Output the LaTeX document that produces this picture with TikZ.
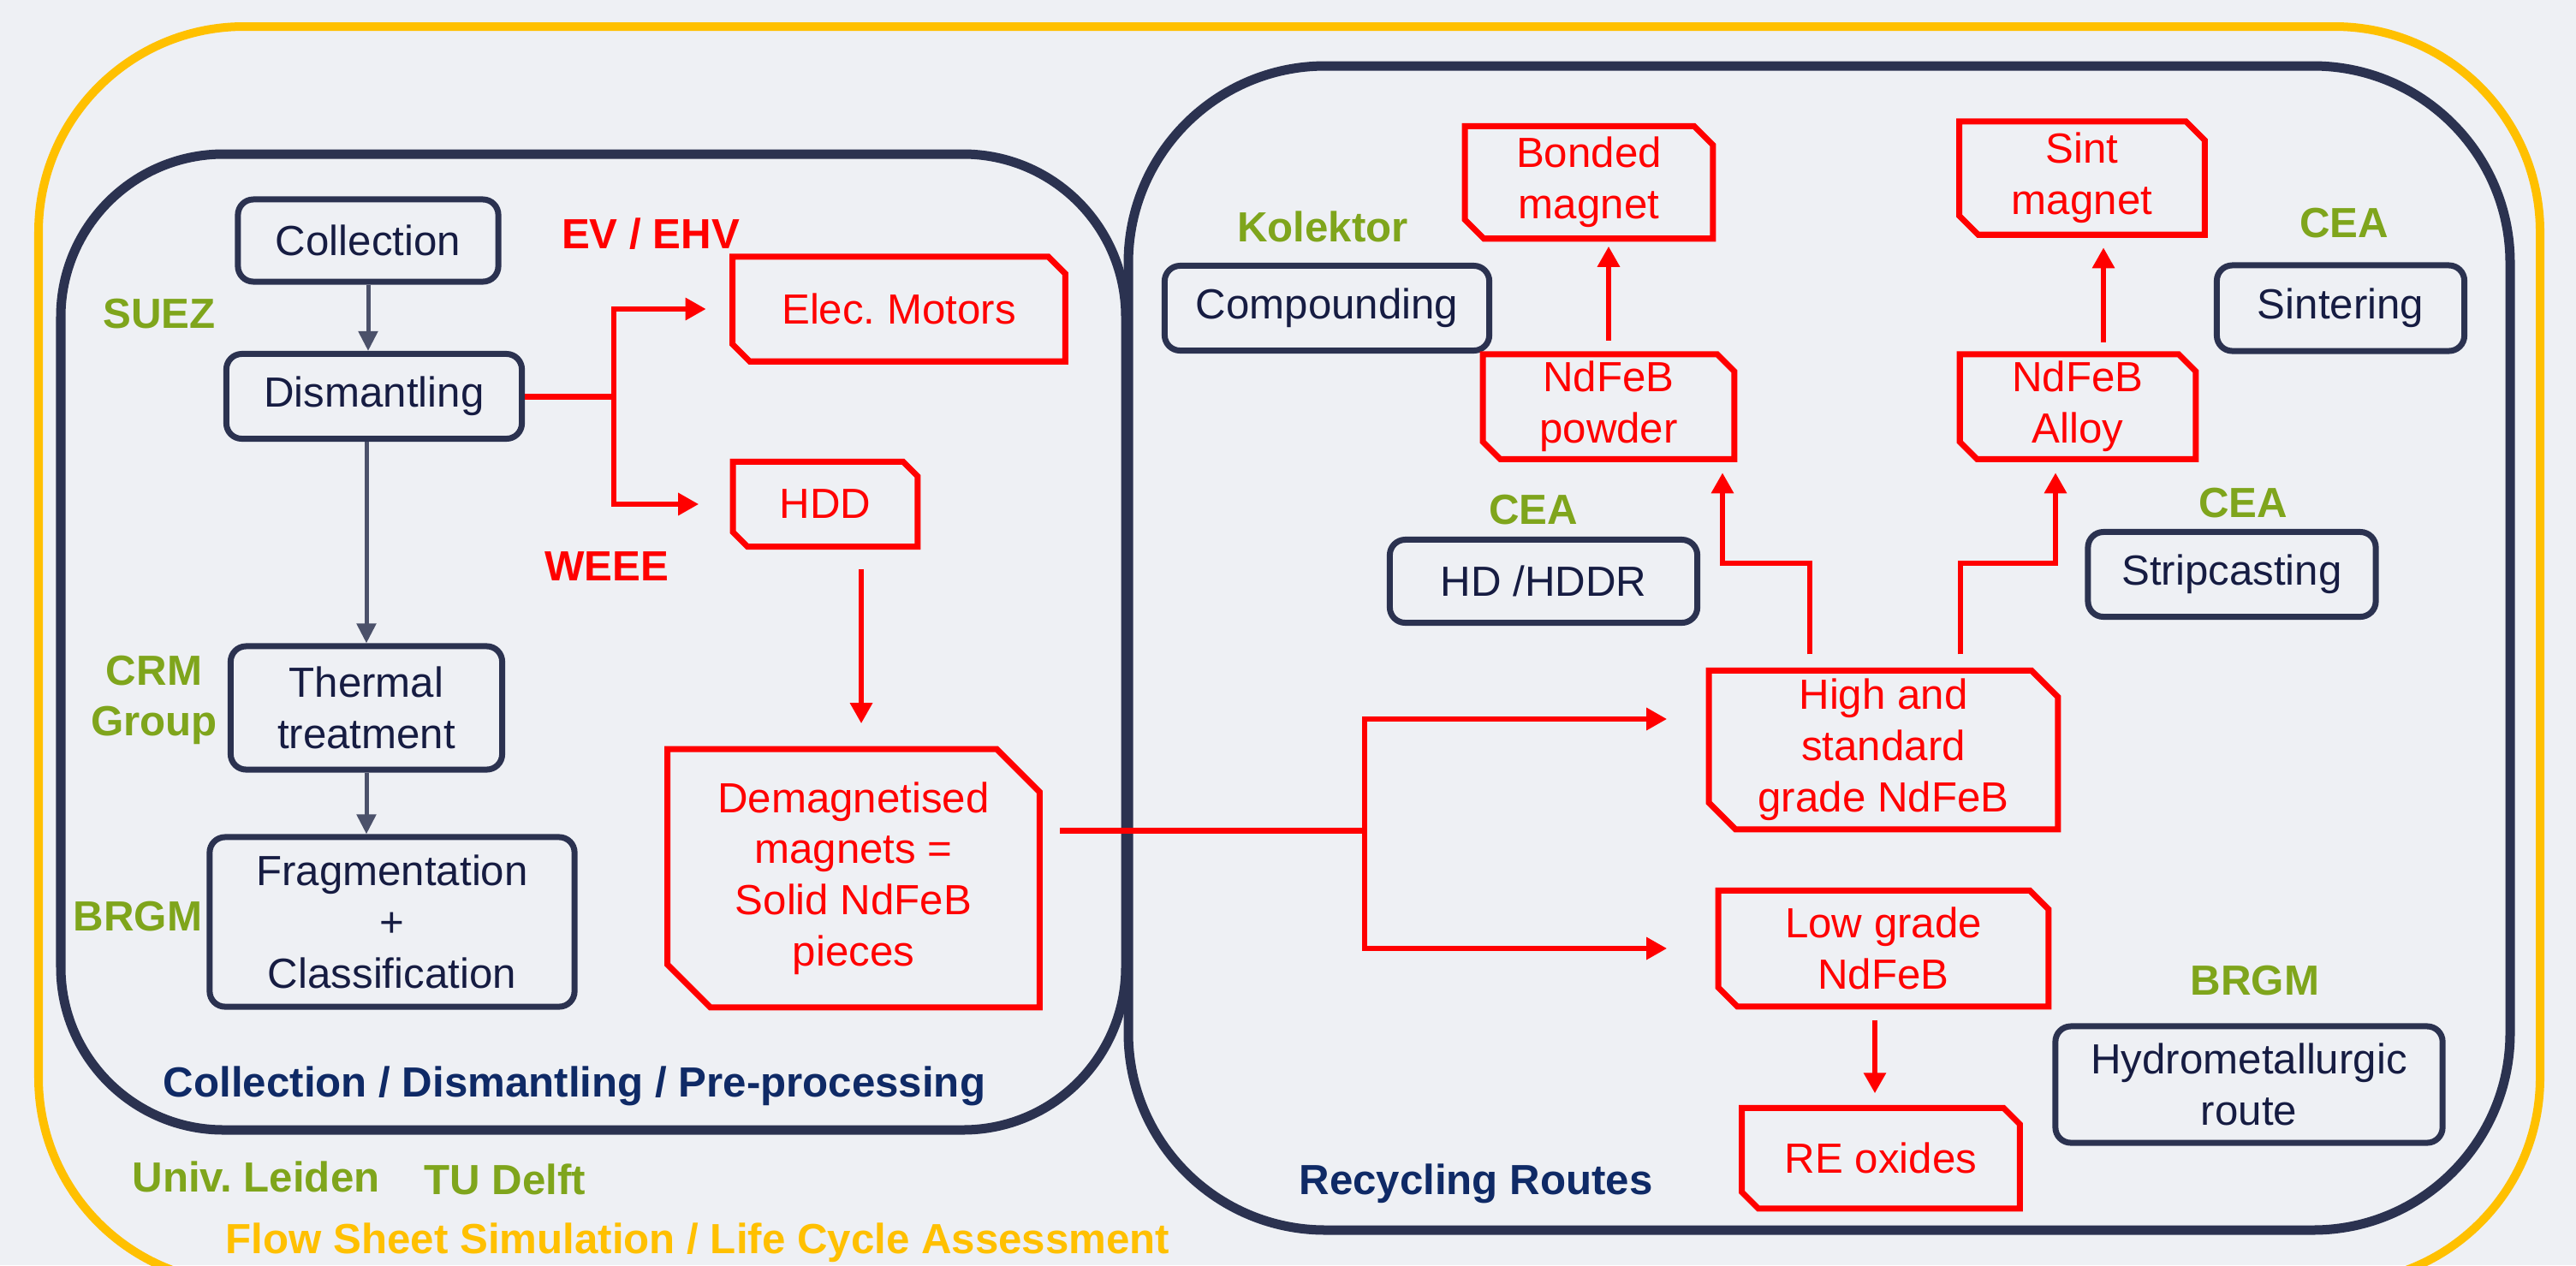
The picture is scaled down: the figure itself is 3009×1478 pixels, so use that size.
\documentclass[tikz,border=0pt]{standalone}
\usepackage{fontspec}
\setmainfont{Liberation Sans}
\usetikzlibrary{arrows.meta,calc}
\definecolor{bgc}{HTML}{EEF0F4}
\definecolor{navy}{HTML}{2B3250}
\definecolor{navytext}{HTML}{161C42}
\definecolor{titleblue}{HTML}{0F2A66}
\definecolor{lgreen}{HTML}{7FA51C}
\definecolor{ygold}{HTML}{FFC000}
\definecolor{rred}{HTML}{FF0000}
\frenchspacing
\newcommand\myfs{\fontsize{14}{17}\selectfont}
\newcommand\snipit[2]{\draw[redline] (#1.north west) -- ([xshift=-#2]#1.north east) -- ([yshift=-#2]#1.north east) -- (#1.south east) -- ([xshift=#2]#1.south west) -- ([yshift=#2]#1.south west) -- cycle;}
\begin{document}
\begin{tikzpicture}[x=0.01cm,y=-0.01cm,
 nbox/.style={draw=navy, line width=0.07cm, rounded corners=0.18cm, text=navytext, align=center, inner sep=0pt, font=\myfs},
 rbox/.style={text=rred, align=center, inner sep=0pt, font=\myfs},
 redline/.style={draw=rred, line width=0.07cm, line join=miter},
 rarrow/.style={draw=rred, line width=0.065cm, -{Triangle[length=0.24cm,width=0.25cm]}},
 navyarrow/.style={draw=navy!85!white, line width=0.05cm, -{Triangle[length=0.23cm,width=0.22cm]}},
 lab/.style={anchor=base, font=\myfs\bfseries}]
\useasboundingbox (0,0) rectangle (3009,1478);
\clip (0,0) rectangle (3009,1478);
\fill[bgc] (0,0) rectangle (3009,1478);
% frames
\draw[ygold, line width=0.1cm, rounded corners=2.4cm] (45,31) rectangle (2967,1499);
\draw[navy, line width=0.11cm, rounded corners=2.3cm] (1318,77) rectangle (2932,1437);
\draw[navy, line width=0.11cm, rounded corners=1.9cm] (71,180) rectangle (1315,1320);
% dark boxes
\node[nbox, minimum width=3.04cm, minimum height=0.96cm] (coll) at (430,281) {Collection};
\node[nbox, minimum width=3.45cm, minimum height=0.99cm] (dism) at (437,463) {Dismantling};
\node[nbox, minimum width=3.17cm, minimum height=1.44cm] (therm) at (428,827) {Thermal\\treatment};
\node[nbox, minimum width=4.26cm, minimum height=1.98cm] (frag) at (458,1077) {Fragmentation\\+\\Classification};
\node[nbox, minimum width=3.79cm, minimum height=0.99cm] (comp) at (1550,360) {Compounding};
\node[nbox, minimum width=2.89cm, minimum height=1.0cm] (sinter) at (2734,360) {Sintering};
\node[nbox, minimum width=3.59cm, minimum height=0.97cm] (hd) at (1803,679) {HD /HDDR};
\node[nbox, minimum width=3.36cm, minimum height=0.99cm] (strip) at (2607,671) {Stripcasting};
\node[nbox, minimum width=4.52cm, minimum height=1.36cm] (hydro) at (2627,1267) {Hydrometallurgic\\route};
% red boxes
\node[rbox, minimum width=3.87cm, minimum height=1.21cm] (elec) at (1050,361) {Elec. Motors};
\node[rbox, minimum width=2.14cm, minimum height=0.98cm] (hdd) at (964,589) {HDD};
\node[rbox, minimum width=4.33cm, minimum height=3.0cm] (demag) at (997,1026) {Demagnetised\\magnets =\\Solid NdFeB\\pieces};
\node[rbox, minimum width=2.88cm, minimum height=1.3cm] (bonded) at (1856,213) {Bonded\\magnet};
\node[rbox, minimum width=2.85cm, minimum height=1.31cm] (sintm) at (2432,208) {Sint\\magnet};
\node[rbox, minimum width=2.92cm, minimum height=1.21cm] (powder) at (1879,475) {NdFeB\\powder};
\node[rbox, minimum width=2.74cm, minimum height=1.21cm] (alloy) at (2427,475) {NdFeB\\Alloy};
\node[rbox, minimum width=4.06cm, minimum height=1.84cm] (high) at (2200,876) {High and\\standard\\grade NdFeB};
\node[rbox, minimum width=3.84cm, minimum height=1.34cm] (low) at (2200,1108) {Low grade\\NdFeB};
\node[rbox, minimum width=3.23cm, minimum height=1.16cm] (reox) at (2197,1353) {RE oxides};
\snipit{elec}{0.2cm}
\snipit{hdd}{0.17cm}
\snipit{demag}{0.5cm}
\snipit{bonded}{0.22cm}
\snipit{sintm}{0.22cm}
\snipit{powder}{0.2cm}
\snipit{alloy}{0.2cm}
\snipit{high}{0.31cm}
\snipit{low}{0.22cm}
\snipit{reox}{0.19cm}
% labels
\node[lab, text=lgreen] (suez) at (186,383) {SUEZ};
\node[lab, text=rred] (evehv) at (760,290) {EV / EHV};
\node[lab, text=rred] (weee) at (709,678) {WEEE};
\node[font=\myfs\bfseries, text=lgreen, align=center, inner sep=0pt] (crm) at (180,818) {CRM\\Group};
\node[lab, text=lgreen] (brgmA) at (161,1087) {BRGM};
\node[lab, text=titleblue] (titleA) at (671,1281) {Collection / Dismantling / Pre-processing};
\node[lab, text=lgreen] (leiden) at (299,1392) {Univ. Leiden};
\node[lab, text=lgreen] (delft) at (590,1395) {TU Delft};
\node[lab, text=ygold] (flow) at (815,1464) {Flow Sheet Simulation / Life Cycle Assessment};
\node[lab, text=lgreen] (kolektor) at (1545,282) {Kolektor};
\node[lab, text=lgreen] (ceaA) at (2738,277) {CEA};
\node[lab, text=lgreen] (ceaB) at (1791,612) {CEA};
\node[lab, text=lgreen] (ceaC) at (2620,604) {CEA};
\node[lab, text=lgreen] (brgmB) at (2634,1162) {BRGM};
\node[lab, text=titleblue] (titleB) at (1724,1395) {Recycling Routes};
% navy connectors
\draw[navyarrow] (coll.south) -- (coll.south |- dism.north);
\draw[navyarrow] (therm.north |- dism.south) -- (therm.north);
\draw[navyarrow] (therm.south) -- (therm.south |- frag.north);
% red connectors left
\coordinate (ja) at (717,463);
\draw[redline] (dism.east) -- (ja);
\draw[rarrow, shorten >=0.31cm] (ja) |- (elec.west);
\draw[rarrow, shorten >=0.4cm] (ja) |- (hdd.west);
\coordinate (ha) at ([xshift=0.42cm]hdd.south);
\draw[rarrow, shorten <=0.26cm, shorten >=0.3cm] (ha) -- (ha |- demag.north);
% split
\coordinate (jb) at (1594,970);
\draw[redline, shorten <=0.24cm] (demag.east |- jb) -- (jb);
\draw[rarrow, shorten >=0.49cm] (jb) |- ([yshift=0.36cm]high.west);
\draw[rarrow, shorten >=0.6cm] (jb) |- (low.west);
% up routes
\coordinate (hl) at ([xshift=-0.86cm]high.north);
\coordinate (hr) at ([xshift=0.9cm]high.north);
\coordinate (pl) at (2012,658);
\coordinate (pr) at (2401,658);
\draw[rarrow, shorten <=0.19cm, shorten >=0.16cm] (hl) |- (pl) -- (pl |- powder.south);
\draw[rarrow, shorten <=0.19cm, shorten >=0.16cm] (hr) |- (pr) -- (pr |- alloy.south);
\draw[rarrow, shorten <=0.16cm, shorten >=0.09cm] (powder.north) -- (powder.north |- bonded.south);
\coordinate (aa) at ([xshift=0.3cm]alloy.north);
\draw[rarrow, shorten <=0.14cm, shorten >=0.15cm] (aa) -- (aa |- sintm.south);
\coordinate (la) at ([xshift=-0.1cm]low.south);
\draw[rarrow, shorten <=0.16cm, shorten >=0.17cm] (la) -- (la |- reox.north);
\end{tikzpicture}
\end{document}
